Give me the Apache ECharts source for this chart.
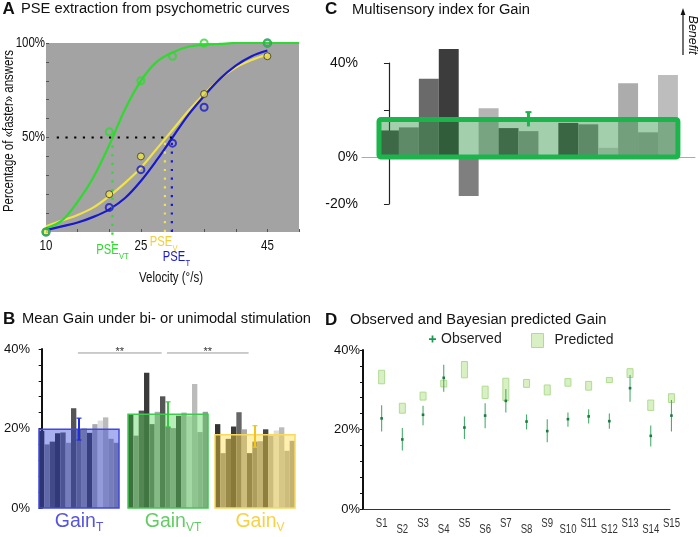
<!DOCTYPE html>
<html><head><meta charset="utf-8">
<script src="https://cdn.jsdelivr.net/npm/echarts@6/dist/echarts.min.js"></script>
<style>html,body{margin:0;padding:0;background:#fff}#c{width:698px;height:537px}</style>
</head><body><div id="c"></div>
<script>
// ---------------- Panel A: psychometric curves ----------------
const velocityTickLabels = [10, 25, 45];
const percentTickLabels = [50, 100];
const curveVelocity = [10,12.5,15,17.5,20,22.5,25,27.5,30,32.5,35,37.5,40,42.5,45,47.5,50];
const curveVT = [2,6,16,29,46,65,80,90,95,98,99,99.5,100,100,100,100,100];
const curveV  = [3,6,9,13,19,26,34,44,54,64,73,81,87,91,94];
const curveT  = [1,3,5,8,12,18,27,38,50,62,72,81,88,93,96];
const pointVelocity = [10,20,25,30,35,45];
const pointsVT = [0,53,80,93,100,100];
const pointsV  = [0,20,40,null,73,93];
const pointsT  = [0,13,33,47,66,100];
const pseVT = 20.5, pseV = 28.8, pseT = 29.9;
const pseNames = [['PSE','VT'], ['PSE','V'], ['PSE','T']];
const halfLevel = 50, halfLineStart = 11.7;

// ---------------- Panel B: mean gain ----------------
const gainT  = [19.4,16,16.7,18.8,19,16.4,25.1,19.8,20,18.9,21.1,22,22.8,17.4,16.4];
const gainVT = [23.5,18.2,24.5,34,21.1,24.2,28.1,20.4,20.1,23.2,24,23.1,31.2,19.1,24.2];
const gainV  = [21.1,13.8,17.4,20.5,24.1,19.8,13.8,16.7,16.8,19.8,18.2,19.5,20.3,14.4,16.9];
const gainMean = [19.8, 23.6, 18.4];
const gainErrLow = [17.1, 20.4, 15.3];
const gainErrHigh = [22.6, 26.7, 20.7];
const gainNames = [['Gain','T'], ['Gain','VT'], ['Gain','V']];
const sigPairs = [[0,1],[1,2]];
const sigText = '**';
const sigLevel = 39;

// ---------------- Panel C: multisensory index ----------------
const msIndex = [11.3,12.6,33.3,46,-16.6,20.7,12.3,11,0.5,14.5,13.9,3.9,31.4,10.5,34.9];
const msMean = 16, msErrLow = 13, msErrHigh = 19.1;
const msTickLabels = [-20, 0, 40];

// ---------------- Panel D: observed vs predicted ----------------
const subjects = ['S1','S2','S3','S4','S5','S6','S7','S8','S9','S10','S11','S12','S13','S14','S15'];
const obsMean = [22.8,17.5,23.7,33,20.5,23.5,27.2,22,19.6,22.6,23.3,22.1,30.4,18.4,23.5];
const obsLow  = [19.5,14.7,21.1,29.5,17.6,20.3,24.3,20,16.8,20.7,21.5,20.2,27,15.7,19.5];
const obsHigh = [26.1,20.4,26,36.3,23.3,26.6,30.2,23.8,22.6,24.3,25.1,24,33.7,21,27.4];
const predLow  = [31.5,24.1,27.4,30.7,33,27.8,27.3,30.6,28.7,30.9,29.9,31.8,33.1,24.8,26.8];
const predHigh = [34.9,26.6,29.4,32.4,37.1,30.9,32.9,32.6,31.2,32.8,32.1,33.1,35.3,27.4,29];
const gainTickLabels = [0, 20, 40];

// ---------------- styles / layout ----------------
const SANS = "'Liberation Sans', Arial, sans-serif";
const NARROW_SCALE = 0.82;
const GREEN_A = '#30d930', YELLOW_A = '#f0e24a', BLUE_A = '#1818cc';
const pseColors = [GREEN_A, '#f2cf3a', BLUE_A];
const pseLabelOffset = [[6.3, 18], [7.2, 10], [13.3, 25]];
const shadesB = ['#333','#888','#555','#3a3a3a','#666','#aaa','#555','#777','#999','#444','#aaa','#ddd','#bbb','#aaa','#999'];
const shadesC = ['#505050','#888','#6a6a6a','#3c3c3c','#7f7f7f','#b5b5b5','#555','#999','#ddd','#4a4a4a','#888','#d5d5d5','#acacac','#aaa','#bdbdbd'];
const overlayB = ['rgba(37,57,217,0.4)','rgba(77,207,77,0.4)','rgba(255,217,57,0.4)'];
const borderB = ['#4048e0','#40c850','#f8d860'];
const errColB = ['#1f2ee0','#36c840','#f2c318'];
const labelColB = ['#2b2bd4','#3fbf3f','#f5c518'];
const groupOffset = [0, 16.69, 33];
const nSub = 15;

const pairs = (xs, ys) => xs.map((x,i)=>[x, ys[i]]).filter(p => p[1] != null);
const rectFrom = (a, b) => ({x:Math.min(a[0],b[0]), y:Math.min(a[1],b[1]), width:Math.abs(b[0]-a[0]), height:Math.abs(b[1]-a[1])});
const textEl = (x, y, text, font, fill, align, sx) => ({type:'text', x:x, y:y, scaleX:sx||1,
  style:{text:text, font:font, fill:fill, textAlign:align, align:align, textVerticalAlign:'middle', verticalAlign:'middle'}});

function barRender(shades){
  return (params, api) => {
    const x = api.value(0), v = api.value(1), j = api.value(2);
    const a = api.coord([x-0.5, v]), b = api.coord([x+0.5, 0]);
    return {type:'rect', shape:rectFrom(a,b), style:{fill:shades[j]}};
  };
}

const chart = echarts.init(document.getElementById('c'), null, {renderer:'canvas', width:698, height:537});

const bBarData = [];
[gainT, gainVT, gainV].forEach((arr,g)=>arr.forEach((v,j)=>bBarData.push([groupOffset[g]+j, v, j])));
const groupCenter = g => groupOffset[g] + (nSub-1)/2;

const series = [
  // ---- A ----
  {type:'line', xAxisIndex:0, yAxisIndex:0, data:pairs(curveVelocity.slice(0,curveV.length), curveV), smooth:0.35, symbol:'none', lineStyle:{color:YELLOW_A, width:2.2}, z:2},
  {type:'line', xAxisIndex:0, yAxisIndex:0, data:pairs(curveVelocity.slice(0,curveT.length), curveT), smooth:0.35, symbol:'none', lineStyle:{color:BLUE_A, width:2.2}, z:2},
  {type:'line', xAxisIndex:0, yAxisIndex:0, data:pairs(curveVelocity, curveVT), smooth:0.35, symbol:'none', lineStyle:{color:GREEN_A, width:2.2}, z:2},
  {type:'line', xAxisIndex:0, yAxisIndex:0, data:[[halfLineStart, halfLevel],[pseT, halfLevel]], symbol:'none', lineStyle:{color:'#000', width:2.2, type:[2.2,6.5]}, z:3},
  {type:'line', xAxisIndex:0, yAxisIndex:0, data:[[pseVT,-6],[pseVT,halfLevel]], symbol:'none', clip:false, lineStyle:{color:GREEN_A, width:2.2, type:[2.2,6.5]}, z:3},
  {type:'line', xAxisIndex:0, yAxisIndex:0, data:[[pseV,0],[pseV,halfLevel]], symbol:'none', lineStyle:{color:YELLOW_A, width:2.2, type:[2.2,6.5]}, z:3},
  {type:'line', xAxisIndex:0, yAxisIndex:0, data:[[pseT,0],[pseT,halfLevel]], symbol:'none', lineStyle:{color:BLUE_A, width:2.2, type:[2.2,6.5]}, z:3},
  {type:'scatter', xAxisIndex:0, yAxisIndex:0, data:pairs(pointVelocity, pointsV), symbol:'circle', symbolSize:7, clip:false, itemStyle:{color:YELLOW_A, borderColor:'#333', borderWidth:1}, z:4},
  {type:'scatter', xAxisIndex:0, yAxisIndex:0, data:pairs(pointVelocity, pointsT), symbol:'circle', symbolSize:7, clip:false, itemStyle:{color:'rgba(0,0,0,0)', borderColor:BLUE_A, borderWidth:2}, z:5},
  {type:'scatter', xAxisIndex:0, yAxisIndex:0, data:pairs(pointVelocity, pointsVT), symbol:'circle', symbolSize:7, clip:false, itemStyle:{color:'rgba(0,0,0,0)', borderColor:GREEN_A, borderWidth:2}, z:6},
  // A: PSE labels
  {type:'custom', xAxisIndex:0, yAxisIndex:0, clip:false, silent:true, z:7,
    data:[[pseVT,0,0],[pseV,0,1],[pseT,0,2]],
    renderItem:(params, api)=>{
      const k = api.value(2), c = api.coord([api.value(0), api.value(1)]);
      const x = c[0] + pseLabelOffset[k][0], y = c[1] + pseLabelOffset[k][1];
      return {type:'group', children:[
        textEl(x, y, pseNames[k][0], '14px '+SANS, pseColors[k], 'right', 0.8),
        textEl(x+0.3, y+6.5, pseNames[k][1], '9px '+SANS, pseColors[k], 'left', 0.85)
      ]};
    }},
  // A: tick labels (narrow)
  {type:'custom', xAxisIndex:0, yAxisIndex:0, clip:false, silent:true, z:7,
    data:velocityTickLabels.map(v=>[v, 0]),
    renderItem:(params, api)=>{
      const c = api.coord([api.value(0), api.value(1)]);
      return textEl(c[0], c[1]+14, String(api.value(0)), '14px '+SANS, '#111', 'center', NARROW_SCALE);
    }},
  {type:'custom', xAxisIndex:0, yAxisIndex:0, clip:false, silent:true, z:7,
    data:percentTickLabels.map(v=>[10, v]),
    renderItem:(params, api)=>{
      const c = api.coord([api.value(0), api.value(1)]);
      return textEl(c[0]-1, c[1], api.value(1)+'%', '14px '+SANS, '#111', 'right', NARROW_SCALE);
    }},

  // ---- B ----
  {type:'custom', xAxisIndex:1, yAxisIndex:1, data:bBarData, renderItem:barRender(shadesB), z:2, silent:true},
  {type:'custom', xAxisIndex:1, yAxisIndex:1, z:3, silent:true,
    data:gainMean.map((m,g)=>[groupOffset[g]-0.5, m, groupOffset[g]+nSub-0.5, g]),
    renderItem:(params, api)=>{
      const g = api.value(3);
      const a = api.coord([api.value(0), api.value(1)]), b = api.coord([api.value(2), 0]);
      return {type:'rect', shape:rectFrom(a,b), style:{fill:overlayB[g], stroke:borderB[g], lineWidth:1.5}};
    }},
  {type:'custom', xAxisIndex:1, yAxisIndex:1, z:4, silent:true,
    data:gainMean.map((m,g)=>[groupCenter(g), gainErrLow[g], gainErrHigh[g], g]),
    renderItem:(params, api)=>{
      const g = api.value(3), c = errColB[g];
      const a = api.coord([api.value(0), api.value(1)]), b = api.coord([api.value(0), api.value(2)]);
      return {type:'group', children:[
        {type:'line', shape:{x1:a[0],y1:a[1],x2:b[0],y2:b[1]}, style:{stroke:c, lineWidth:2}},
        {type:'line', shape:{x1:b[0]-2.5,y1:b[1],x2:b[0]+2.5,y2:b[1]}, style:{stroke:c, lineWidth:1.2}},
        {type:'line', shape:{x1:a[0]-2.5,y1:a[1],x2:a[0]+2.5,y2:a[1]}, style:{stroke:c, lineWidth:1.2}}
      ]};
    }},
  {type:'custom', xAxisIndex:1, yAxisIndex:1, z:4, silent:true, clip:false,
    data:sigPairs.map(p=>[groupCenter(p[0])-0.2, sigLevel, groupCenter(p[1])-1.2]),
    renderItem:(params, api)=>{
      const a = api.coord([api.value(0), api.value(1)]), b = api.coord([api.value(2), api.value(1)]);
      return {type:'group', children:[
        {type:'line', shape:{x1:a[0],y1:a[1],x2:b[0],y2:b[1]}, style:{stroke:'#999', lineWidth:1}},
        textEl((a[0]+b[0])/2, a[1]-1, sigText, '11px '+SANS, '#333', 'center', 1)
      ]};
    }},
  {type:'scatter', xAxisIndex:1, yAxisIndex:1, symbolSize:0, clip:false, z:5, silent:true,
    data:gainNames.map((n,g)=>({value:[groupCenter(g),0], label:{offset:[g===0?0:5,14], formatter:'{a|'+n[0]+'}{b|'+n[1]+'}',
      rich:{a:{color:labelColB[g], fontSize:19.5, fontFamily:SANS, lineHeight:24}, b:{color:labelColB[g], fontSize:12, fontFamily:SANS, lineHeight:12, verticalAlign:'bottom'}}}})),
    label:{show:true, position:'inside'}},

  // ---- C ----
  {type:'custom', xAxisIndex:2, yAxisIndex:2, data:msIndex.map((v,i)=>[i, v, i]), renderItem:barRender(shadesC), z:2, silent:true},
  {type:'custom', xAxisIndex:2, yAxisIndex:2, z:3, silent:true,
    data:[[-0.5, msMean, nSub-0.5]],
    renderItem:(params, api)=>{
      const a = api.coord([api.value(0), api.value(1)]), b = api.coord([api.value(2), 0]);
      return {type:'rect', shape:Object.assign(rectFrom(a,b), {r:2}), style:{fill:'rgba(37,140,60,0.42)', stroke:'#1cb54c', lineWidth:5}};
    }},
  {type:'custom', xAxisIndex:2, yAxisIndex:2, z:4, silent:true,
    data:[[(nSub-1)/2, msErrLow, msErrHigh]],
    renderItem:(params, api)=>{
      const a = api.coord([api.value(0), api.value(1)]), b = api.coord([api.value(0), api.value(2)]);
      return {type:'group', children:[
        {type:'line', shape:{x1:a[0],y1:a[1],x2:b[0],y2:b[1]}, style:{stroke:'#1cb54c', lineWidth:3}},
        {type:'line', shape:{x1:b[0]-3,y1:b[1],x2:b[0]+3,y2:b[1]}, style:{stroke:'#1cb54c', lineWidth:2}}
      ]};
    }},

  // ---- D ----
  {type:'custom', name:'Predicted', xAxisIndex:3, yAxisIndex:3, z:3, clip:false, silent:true,
    itemStyle:{color:'#d8f0c4', borderColor:'#b0dc92'},
    data:predLow.map((lo,i)=>[i+1, lo, predHigh[i]]),
    renderItem:(params, api)=>{
      const a = api.coord([api.value(0), api.value(2)]), b = api.coord([api.value(0), api.value(1)]);
      return {type:'rect', shape:{x:a[0]-3, y:a[1], width:6, height:b[1]-a[1]}, style:{fill:'#d8f0c4', stroke:'#b0dc92', lineWidth:1}};
    }},
  {type:'custom', name:'Observed', xAxisIndex:3, yAxisIndex:3, z:4, clip:false, silent:true,
    itemStyle:{color:'#1a9a50'},
    data:obsMean.map((m,i)=>[i+1, m, obsLow[i], obsHigh[i]]),
    renderItem:(params, api)=>{
      const x = api.value(0);
      const m = api.coord([x, api.value(1)]), lo = api.coord([x, api.value(2)]), hi = api.coord([x, api.value(3)]);
      return {type:'group', children:[
        {type:'line', shape:{x1:lo[0],y1:lo[1],x2:hi[0],y2:hi[1]}, style:{stroke:'#4aae6c', lineWidth:1.1}},
        {type:'rect', shape:{x:m[0]-1.3, y:m[1]-1.3, width:2.6, height:2.6}, style:{fill:'#1a7a40'}}
      ]};
    }},
  {type:'custom', xAxisIndex:3, yAxisIndex:3, z:5, clip:false, silent:true,
    data:subjects.map((s,i)=>[i+1, 0, i]),
    renderItem:(params, api)=>{
      const i = api.value(2), c = api.coord([api.value(0), api.value(1)]);
      return textEl(c[0], c[1] + (i%2 ? 21 : 15), subjects[i], '12px '+SANS, '#333', 'center', 0.8);
    }}
];

const txt = (x, y, text, font, extra) => Object.assign({type:'text', x:x, y:y, silent:true,
  style:Object.assign({text:text, font:font, fill:'#111', textVerticalAlign:'middle', verticalAlign:'middle'}, extra||{})});

const option = {
  animation:false,
  backgroundColor:'#fff',
  textStyle:{fontFamily:SANS},
  grid:[
    {left:46, top:43, width:253, height:189, show:true, backgroundColor:'#a3a3a3', borderWidth:0},
    {left:33, top:349, width:264.67, height:159},
    {left:362, top:63, width:333, height:141},
    {left:363, top:350, width:307, height:159}
  ],
  xAxis:[
    {gridIndex:0, type:'value', min:10, max:50, interval:5, axisLine:{show:false}, splitLine:{show:false},
      axisTick:{show:true, inside:true, length:3, lineStyle:{color:'#555'}}, axisLabel:{show:false}},
    {gridIndex:1, type:'value', min:-1.625, max:48, show:false},
    {gridIndex:2, type:'value', min:-1.353, max:15.357, axisLine:{show:true, onZero:true, lineStyle:{color:'#aaa', width:1}},
      axisTick:{show:false}, axisLabel:{show:false}, splitLine:{show:false}},
    {gridIndex:3, type:'value', min:0.1, max:14.93, axisLine:{show:true, onZero:false, lineStyle:{color:'#333', width:1}},
      axisTick:{show:false}, axisLabel:{show:false}, splitLine:{show:false}}
  ],
  yAxis:[
    {gridIndex:0, type:'value', min:0, max:100, interval:10, axisLine:{show:false}, splitLine:{show:false},
      axisTick:{show:true, inside:true, length:3, lineStyle:{color:'#555'}}, axisLabel:{show:false}},
    {gridIndex:1, type:'value', min:0, max:40, interval:4, axisLine:{show:true, lineStyle:{color:'#111', width:2}}, splitLine:{show:false},
      axisTick:{show:true, length:3, lineStyle:{color:'#111'}},
      axisLabel:{formatter:v=>gainTickLabels.includes(v)?v+'%':'', fontFamily:SANS, fontSize:13, color:'#111', margin:3}},
    {gridIndex:2, type:'value', min:-20, max:40, interval:20, axisLine:{show:true, lineStyle:{color:'#222', width:1.2}}, splitLine:{show:false},
      axisTick:{show:true, length:5, lineStyle:{color:'#222'}},
      axisLabel:{formatter:v=>msTickLabels.includes(v)?v+'%':'', fontFamily:SANS, fontSize:14, color:'#111', margin:4}},
    {gridIndex:3, type:'value', min:0, max:40, interval:4, axisLine:{show:true, lineStyle:{color:'#111', width:2}}, splitLine:{show:false},
      axisTick:{show:true, length:3, lineStyle:{color:'#111'}},
      axisLabel:{formatter:v=>gainTickLabels.includes(v)?v+'%':'', fontFamily:SANS, fontSize:13, color:'#111', margin:3}}
  ],
  legend:[
    {data:[{name:'Observed', icon:'path://M3,0H5V3H8V5H5V8H3V5H0V3H3Z'}], left:429, top:332, itemWidth:7, itemHeight:9, padding:0,
      selectedMode:false, textStyle:{fontSize:14, color:'#222', fontFamily:SANS}},
    {data:[{name:'Predicted', icon:'rect'}], left:531, top:333, itemWidth:12, itemHeight:14, padding:0,
      selectedMode:false, itemStyle:{color:'#d8f0c4', borderColor:'#b0dc92', borderWidth:1},
      textStyle:{fontSize:14, color:'#222', fontFamily:SANS, padding:[0,0,0,6]}}
  ],
  graphic:[
    txt(2.5, 9, 'A', 'bold 17px '+SANS),
    txt(21, 8.5, 'PSE extraction from psychometric curves', '14.7px '+SANS),
    txt(3, 319, 'B', 'bold 17px '+SANS),
    txt(22, 319, 'Mean Gain under bi- or unimodal stimulation', '14.7px '+SANS),
    txt(325, 9.5, 'C', 'bold 17px '+SANS),
    txt(352, 10, 'Multisensory index for Gain', '14.7px '+SANS),
    txt(325, 320, 'D', 'bold 17px '+SANS),
    txt(350, 320, 'Observed and Bayesian predicted Gain', '14.7px '+SANS),
    Object.assign(txt(9.5, 131, 'Percentage of «faster» answers', '14px '+SANS, {textAlign:'center', align:'center'}), {rotation:Math.PI/2, scaleX:NARROW_SCALE}),
    Object.assign(txt(171, 278, 'Velocity (°/s)', '14px '+SANS, {textAlign:'center', align:'center'}), {scaleX:NARROW_SCALE}),
    {type:'line', silent:true, shape:{x1:683, y1:55, x2:683, y2:14}, style:{stroke:'#111', lineWidth:1.2}},
    {type:'polygon', silent:true, shape:{points:[[683,8],[680.6,15],[685.4,15]]}, style:{fill:'#111'}},
    Object.assign(txt(692.5, 35, 'Benefit', 'italic 12.5px '+SANS, {textAlign:'center', align:'center'}), {rotation:-Math.PI/2})
  ],
  series:series
};
chart.setOption(option);
</script>
</body></html>
